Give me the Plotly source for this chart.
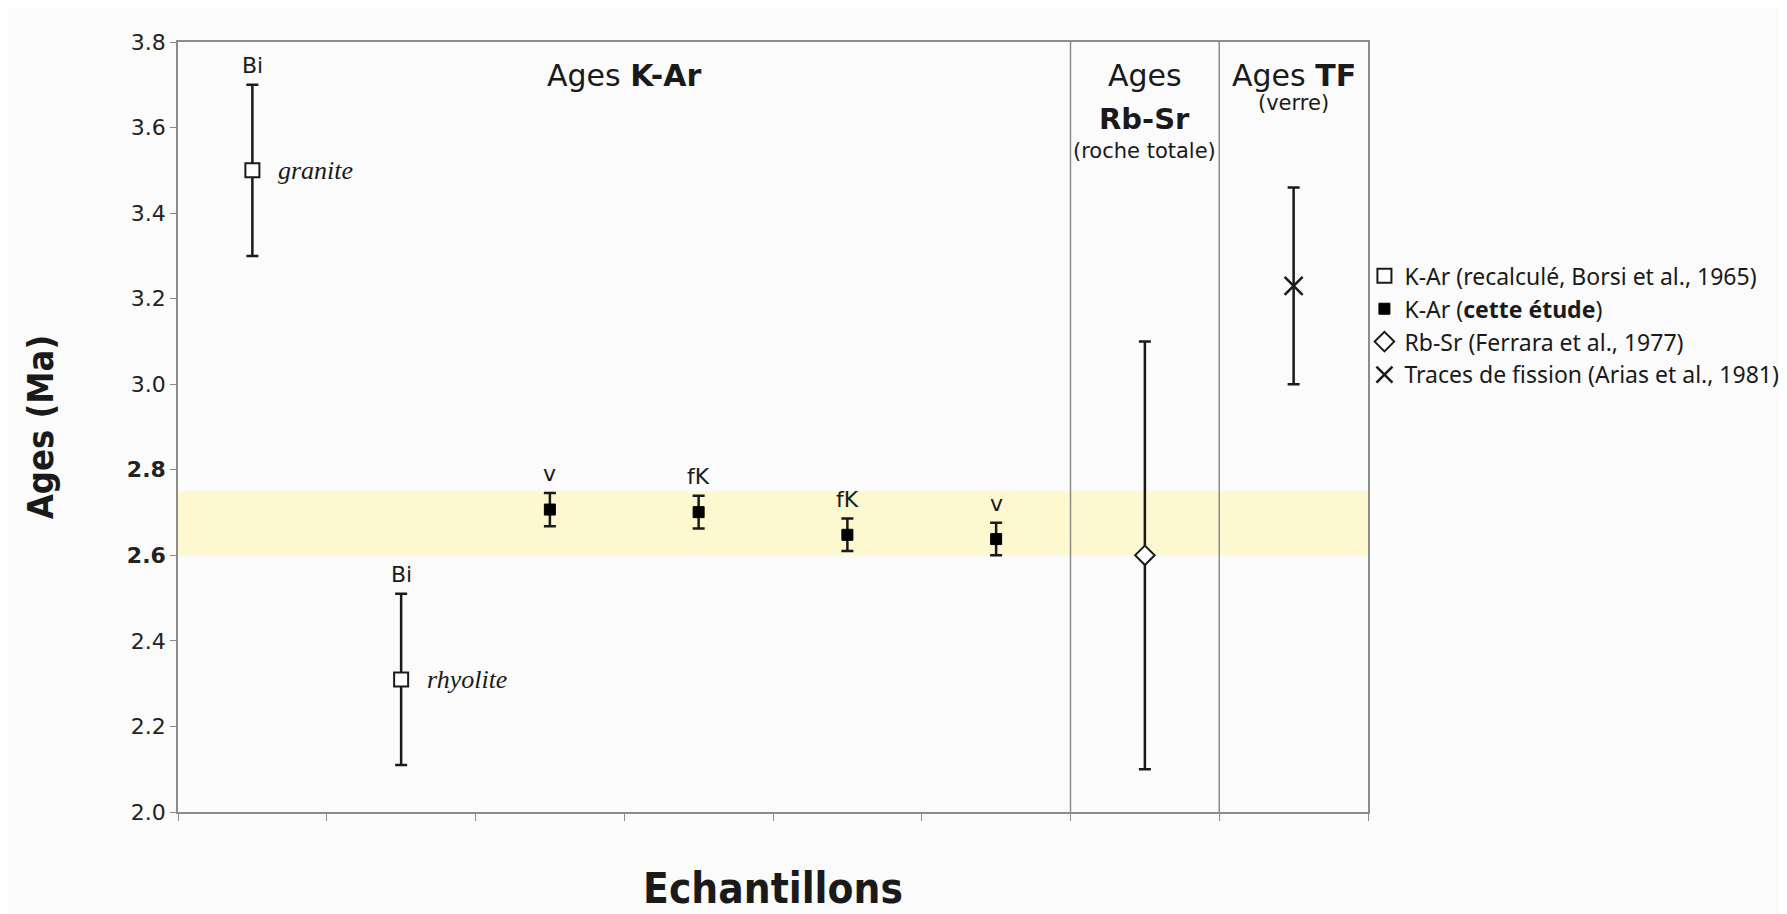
import plotly.graph_objects as go

# ---- data ----
borsi_x = [0, 1]
borsi_age = [3.50, 2.31]
borsi_err = [0.20, 0.20]
borsi_mineral = ["Bi", "Bi"]
borsi_rock = ["granite", "rhyolite"]

this_x = [2, 3, 4, 5]
this_age = [2.707, 2.701, 2.648, 2.638]
this_err = [0.039, 0.038, 0.038, 0.038]
this_mineral = ["v", "fK", "fK", "v"]

rbsr_x = [6]
rbsr_age = [2.60]
rbsr_err = [0.50]

tf_x = [7]
tf_age = [3.23]
tf_err = [0.23]

band = [2.60, 2.75]
separators = [5.5, 6.5]
x_bounds = [-0.5, 7.5]
y_ticks = [2.0, 2.2, 2.4, 2.6, 2.8, 3.0, 3.2, 3.4, 3.6, 3.8]
y_ticktext = ["2.0", "2.2", "2.4", "<b>2.6</b>", "<b>2.8</b>", "3.0", "3.2", "3.4", "3.6", "3.8"]

legend_names = [
    "K-Ar (recalculé, Borsi et al., 1965)",
    "K-Ar (<b>cette étude</b>)",
    "Rb-Sr (Ferrara et al., 1977)",
    "Traces de fission (Arias et al., 1981)",
]

INK = "#1a1a1a"
AXC = "#8c8c8c"
SANS = "DejaVu Sans"
NARROW = "Liberation Sans Narrow, DejaVu Sans Condensed"

def ebar(err):
    return dict(type="data", array=err, visible=True, color=INK, thickness=2.5, width=6)

fig = go.Figure()

fig.add_trace(go.Scatter(
    x=borsi_x, y=borsi_age, mode="markers", name=legend_names[0],
    error_y=ebar(borsi_err),
    marker=dict(symbol="square", size=14, color="white", line=dict(color=INK, width=2)),
))
fig.add_trace(go.Scatter(
    x=this_x, y=this_age, mode="markers", name=legend_names[1],
    error_y=ebar(this_err),
    marker=dict(symbol="square", size=11, color="black", line=dict(color="black", width=1)),
))
fig.add_trace(go.Scatter(
    x=rbsr_x, y=rbsr_age, mode="markers", name=legend_names[2],
    error_y=ebar(rbsr_err),
    marker=dict(symbol="diamond", size=15, color="white", line=dict(color=INK, width=2)),
))
fig.add_trace(go.Scatter(
    x=tf_x, y=tf_age, mode="markers", name=legend_names[3],
    error_y=ebar(tf_err),
    marker=dict(symbol="x-thin-open", size=18, color=INK, line=dict(color=INK, width=2.5)),
))

# yellow band
fig.add_shape(type="rect", xref="x", yref="y", x0=x_bounds[0], x1=x_bounds[1],
              y0=band[0], y1=band[1], fillcolor="#fdf8cf", line=dict(width=0), layer="below")
# separators
for s in separators:
    fig.add_shape(type="line", xref="x", yref="y", x0=s, x1=s, y0=y_ticks[0], y1=y_ticks[-1],
                  line=dict(color=AXC, width=1.5), layer="above")

ann = []
# mineral labels
for x, a, e, m in zip(borsi_x, borsi_age, borsi_err, borsi_mineral):
    ann.append(dict(x=x, y=a + e, text=m, showarrow=False, yshift=19, yanchor="middle",
                    font=dict(family=SANS, size=22, color=INK)))
for x, a, e, m in zip(this_x, this_age, this_err, this_mineral):
    ann.append(dict(x=x, y=a + e, text=m, showarrow=False, yshift=19, yanchor="middle",
                    font=dict(family=SANS, size=22, color=INK)))
# rock labels
for x, a, r in zip(borsi_x, borsi_age, borsi_rock):
    ann.append(dict(x=x, y=a, text="<i>" + r + "</i>", showarrow=False, xanchor="left", xshift=24,
                    yanchor="middle", font=dict(family="Liberation Serif", size=26, color=INK)))

# group headers
ann.append(dict(x=2.5, y=0.957, yref="paper", text="Ages <b>K-Ar</b>", showarrow=False,
                yanchor="middle", font=dict(family=SANS, size=30, color=INK)))
ann.append(dict(x=6, y=0.957, yref="paper", text="Ages", showarrow=False,
                yanchor="middle", font=dict(family=SANS, size=30, color=INK)))
ann.append(dict(x=6, y=0.900, yref="paper", text="<b>Rb-Sr</b>", showarrow=False,
                yanchor="middle", font=dict(family=SANS, size=29, color=INK)))
ann.append(dict(x=6, y=0.859, yref="paper", text="(roche totale)", showarrow=False,
                yanchor="middle", font=dict(family=SANS, size=21, color=INK)))
ann.append(dict(x=7, y=0.957, yref="paper", text="Ages <b>TF</b>", showarrow=False,
                yanchor="middle", font=dict(family=SANS, size=30, color=INK)))
ann.append(dict(x=7, y=0.921, yref="paper", text="(verre)", showarrow=False,
                yanchor="middle", font=dict(family=SANS, size=21, color=INK)))

fig.update_layout(
    width=1787, height=914,
    margin=dict(l=170, r=427, t=34, b=110, autoexpand=False),
    paper_bgcolor="#fbfbfb", plot_bgcolor="#fbfbfb",
    annotations=ann,
    showlegend=True,
    legend=dict(x=0.997, xanchor="left", y=0.632, yanchor="middle",
                font=dict(family="Noto Sans", size=23, color=INK),
                bgcolor="rgba(0,0,0,0)", itemwidth=30, tracegroupgap=0),
    xaxis=dict(range=x_bounds, tickmode="array",
               tickvals=[x_bounds[0] + i for i in range(int(x_bounds[1] - x_bounds[0]) + 1)],
               showticklabels=False, ticks="outside", ticklen=7, tickcolor=AXC, tickwidth=1,
               showline=True, linecolor=AXC, linewidth=1.5, mirror=True,
               showgrid=False, zeroline=False,
               title=dict(text="<b>Echantillons</b>", standoff=54,
                          font=dict(family=NARROW, size=42, color=INK))),
    yaxis=dict(range=[y_ticks[0], y_ticks[-1]], tickmode="array", tickvals=y_ticks, ticktext=y_ticktext,
               ticks="outside", ticklen=6, tickcolor=AXC, tickwidth=1,
               tickfont=dict(family=SANS, size=22, color="#222"),
               showline=True, linecolor=AXC, linewidth=1.5, mirror=True,
               showgrid=False, zeroline=False,
               title=dict(text="<b>Ages (Ma)</b>", standoff=62,
                          font=dict(family=NARROW, size=36, color=INK))),
)

fig.write_html("out.html")
